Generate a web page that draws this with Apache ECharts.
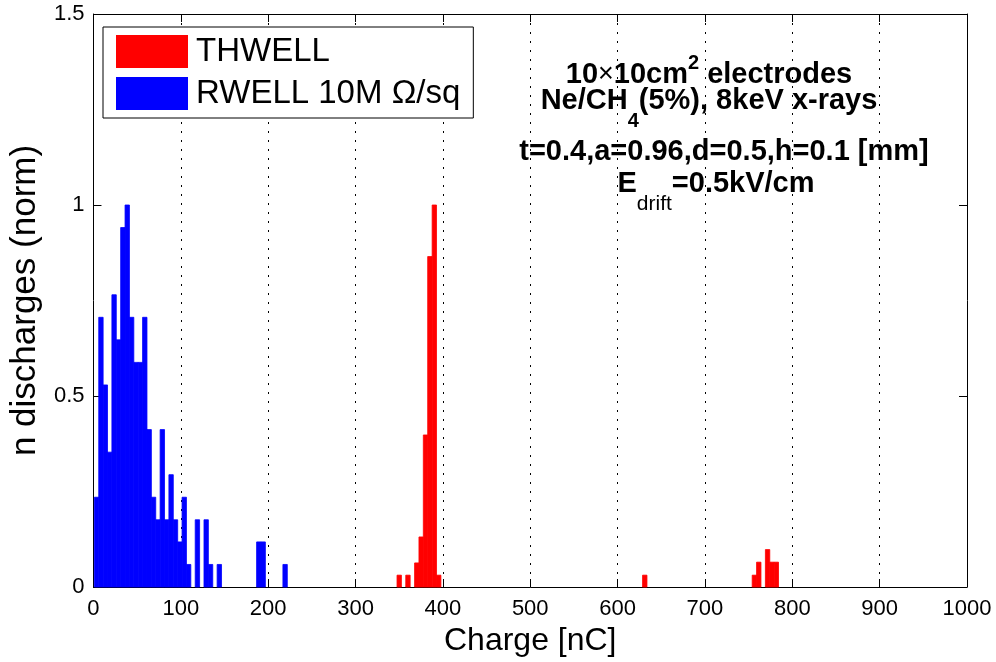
<!DOCTYPE html>
<html>
<head>
<meta charset="utf-8">
<title>Discharge charge distribution</title>
<script src="https://cdn.jsdelivr.net/npm/echarts@6/dist/echarts.min.js"></script>
<style>
  html, body { margin: 0; padding: 0; background: #fff; }
  #chart { width: 996px; height: 662px; }
</style>
</head>
<body>
<div id="chart"></div>
<script>
const FONT = '"Liberation Sans", Arial, Helvetica, sans-serif';

// Histogram bin width (nC)
const binWidth = 5.02;

// RWELL 10M Ohm/sq: consecutive bins starting at rwellStart (nC), normalised counts
const rwellStart = 1.0;
const rwellValues = [
  0.235, 0.706, 0.529, 0.353, 0.765, 0.647, 0.941, 1.0, 0.706, 0.588,
  0.588, 0.706, 0.412, 0.235, 0.176, 0.412, 0.176, 0.294, 0.176, 0.118,
  0.235, 0.059, 0, 0.176, 0, 0.176, 0.059, 0, 0.059, 0,
  0, 0, 0, 0, 0, 0, 0, 0.118, 0.118, 0,
  0, 0, 0, 0.059
];

// THWELL: lower bin edges (nC) of the non-empty bins and their normalised counts
const thwellEdges = [347.5, 357.5, 367.6, 372.6, 377.6, 382.6, 387.7, 392.7, 628.6, 754.1, 759.1, 769.2, 774.2, 779.2];
const thwellValues = [0.031, 0.031, 0.063, 0.131, 0.398, 0.865, 1.0, 0.031, 0.031, 0.031, 0.065, 0.098, 0.065, 0.065];

const seriesNames = ['THWELL', 'RWELL 10M \u03A9/sq'];
const seriesColors = ['#ff0000', '#0000ff'];

// [from, to, height] rows for the custom bar renderer
const rwellData = rwellValues
  .map((v, i) => [rwellStart + i * binWidth, rwellStart + (i + 1) * binWidth, v])
  .filter(d => d[2] > 0);
const thwellData = thwellEdges.map((e, i) => [e, e + binWidth, thwellValues[i]]);

function renderBin(params, api) {
  const top = api.coord([api.value(0), api.value(2)]);
  const bottom = api.coord([api.value(1), 0]);
  const color = api.visual('color');
  return {
    type: 'rect',
    shape: { x: top[0], y: top[1], width: bottom[0] - top[0], height: bottom[1] - top[1] },
    style: { fill: color, stroke: color, lineWidth: 0.8 }
  };
}

const chart = echarts.init(document.getElementById('chart'), null, { renderer: 'canvas' });

const rich = {
  b: { fontFamily: FONT, fontSize: 29, fontWeight: 'bold', fill: '#000' },
  x: { fontFamily: FONT, fontSize: 27, fontWeight: 'normal', fill: '#000' },
  sup: { fontFamily: FONT, fontSize: 20, fontWeight: 'bold', fill: '#000', padding: [0, 0, 24, 0] },
  sub: { fontFamily: FONT, fontSize: 20, fontWeight: 'bold', fill: '#000', padding: [40, 0, 0, 0] },
  subn: { fontFamily: FONT, fontSize: 21, fontWeight: 'normal', fill: '#000', padding: [40, 0, 0, 0] }
};
function annotation(x, y, text) {
  return {
    type: 'text', x: x, y: y, z: 100,
    style: {
      text: text, rich: rich, fill: '#000',
      font: 'bold 29px ' + FONT,
      align: 'center', verticalAlign: 'middle',
      textAlign: 'center', textVerticalAlign: 'middle'
    }
  };
}

const axisCommon = {
  axisLine: { show: true, onZero: false, lineStyle: { color: '#000', width: 1 } },
  axisTick: { show: true, inside: true, length: 8, lineStyle: { color: '#000', width: 1 } },
  axisLabel: { color: '#000', fontFamily: FONT, fontSize: 22, formatter: v => String(v) }
};

chart.setOption({
  animation: false,
  backgroundColor: '#fff',
  grid: { left: 92, right: 29, top: 14, bottom: 72, show: false },
  legend: {
    orient: 'vertical', left: 103, top: 27,
    icon: 'rect', itemWidth: 72, itemHeight: 33, itemGap: 9,
    padding: [8, 13, 8, 13],
    borderColor: '#000', borderWidth: 1, backgroundColor: '#fff',
    selectedMode: false,
    textStyle: { fontFamily: FONT, fontSize: 33, color: '#000', padding: [4, 0, 0, 3] },
    data: seriesNames
  },
  xAxis: [
    Object.assign({}, axisCommon, {
      type: 'value', min: 0, max: 1000, interval: 100, position: 'bottom',
      axisLabel: Object.assign({}, axisCommon.axisLabel, { margin: 11 }),
      splitLine: { show: true, lineStyle: { color: '#000', width: 1, type: [2, 7] } },
      name: 'Charge [nC]', nameLocation: 'middle', nameGap: 38,
      nameTextStyle: { fontFamily: FONT, fontSize: 32, color: '#000' }
    }),
    Object.assign({}, axisCommon, {
      type: 'value', min: 0, max: 1000, interval: 100, position: 'top',
      axisLabel: { show: false }, splitLine: { show: false }
    })
  ],
  yAxis: [
    Object.assign({}, axisCommon, {
      type: 'value', min: 0, max: 1.5, interval: 0.5, position: 'left',
      axisLabel: Object.assign({}, axisCommon.axisLabel, { margin: 9 }),
      splitLine: { show: false },
      name: 'n discharges (norm)', nameLocation: 'middle', nameGap: 46, nameRotate: 90,
      nameTextStyle: { fontFamily: FONT, fontSize: 35, color: '#000' }
    }),
    Object.assign({}, axisCommon, {
      type: 'value', min: 0, max: 1.5, interval: 0.5, position: 'right',
      axisLabel: { show: false }, splitLine: { show: false }
    })
  ],
  series: [
    {
      name: seriesNames[0], type: 'custom', renderItem: renderBin,
      itemStyle: { color: seriesColors[0] },
      encode: { x: [0, 1], y: 2 }, data: thwellData, z: 2
    },
    {
      name: seriesNames[1], type: 'custom', renderItem: renderBin,
      itemStyle: { color: seriesColors[1] },
      encode: { x: [0, 1], y: 2 }, data: rwellData, z: 2
    }
  ],
  graphic: [
    annotation(709, 75, '{b|10}{x|\u00D7}{b|10cm}{sup|2}{b| electrodes}'),
    annotation(709, 101, '{b|Ne/CH}{sub|4}{b|(5%), 8keV x-rays}'),
    annotation(724, 152, '{b|t=0.4,a=0.96,d=0.5,h=0.1 [mm]}'),
    annotation(716, 184, '{b|E}{subn|drift}{b|=0.5kV/cm}')
  ]
});
</script>
</body>
</html>
